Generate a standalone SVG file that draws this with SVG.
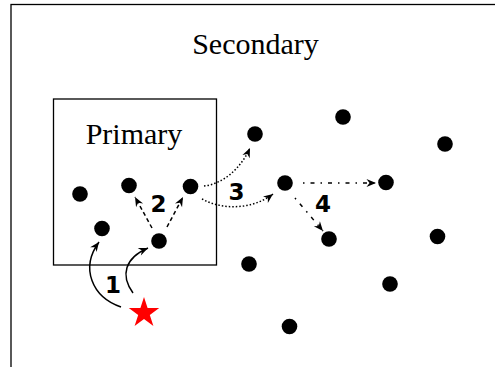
<svg xmlns="http://www.w3.org/2000/svg" width="495" height="367" viewBox="0 0 495 367">
<defs>
<style>
.box{fill:none;stroke:#000;stroke-width:1.3}
.dot{fill:#000}
.title{font-family:"Liberation Serif","Times New Roman",serif;font-size:30px;fill:#000;text-anchor:middle}
.num{font-family:"DejaVu Sans",sans-serif;font-weight:bold;font-size:23px;fill:#000;text-anchor:middle}
.c{fill:none;stroke:#000;stroke-width:1.5;marker-end:url(#ah)}
.dash{stroke-dasharray:4 3}
.dotted{stroke-dasharray:1.5 2}
.sparse{stroke-dasharray:1.5 6 4 6}
</style>
<marker id="ah" viewBox="-10 -5 11 10" refX="0" refY="0" markerWidth="11" markerHeight="10" markerUnits="userSpaceOnUse" orient="auto">
<path d="M0,0 L-9.5,-4 L-6.5,0 L-9.5,4 z" fill="#000"/>
</marker>
</defs>
<rect x="11" y="4.5" width="600" height="500" class="box"/>
<text x="255.5" y="54" class="title">Secondary</text>
<g id="primary">
<rect x="53.5" y="99" width="163" height="166" class="box"/>
<text x="134" y="144" class="title">Primary</text>
</g>
<g id="nodes">
<circle id="p1" cx="80" cy="194" r="7.8" class="dot"/>
<circle id="p2" cx="129" cy="185.5" r="7.8" class="dot"/>
<circle id="p3" cx="190.5" cy="186.5" r="7.8" class="dot"/>
<circle id="p4" cx="102" cy="228.5" r="7.8" class="dot"/>
<circle id="p5" cx="159" cy="241" r="7.8" class="dot"/>
<circle id="s1" cx="255" cy="134" r="7.8" class="dot"/>
<circle id="s2" cx="343" cy="117" r="7.8" class="dot"/>
<circle id="s3" cx="445" cy="144" r="7.8" class="dot"/>
<circle id="s4" cx="285" cy="183" r="7.8" class="dot"/>
<circle id="s5" cx="386" cy="182.5" r="7.8" class="dot"/>
<circle id="s6" cx="329" cy="239" r="7.8" class="dot"/>
<circle id="s7" cx="437.5" cy="236.5" r="7.8" class="dot"/>
<circle id="s8" cx="249" cy="264" r="7.8" class="dot"/>
<circle id="s9" cx="390" cy="284" r="7.8" class="dot"/>
<circle id="s10" cx="289.5" cy="326.5" r="7.8" class="dot"/>
</g>
<g id="source">
<polygon points="144,297 147.59,308.06 159.22,308.06 149.81,314.89 153.4,325.94 144,319.11 134.6,325.94 138.19,314.89 128.78,308.06 140.41,308.06" fill="#ff0000"/>
</g>
<g id="connectors">
<path d="M121,307 C92,297 80,268 99,242" class="c"/>
<path d="M133,293 C120,275 125,258 148,248" class="c"/>
<path d="M152,228 L135,197" class="c dash"/>
<path d="M167,227 L183,197" class="c dash"/>
<path d="M204,186 C222,184 240,170 250,148" class="c dotted"/>
<path d="M202,199 C222,210 252,210 273,194" class="c dotted"/>
<path d="M303,183 L376,183" class="c sparse"/>
<path d="M295,198 L323,231" class="c sparse"/>
</g>
<g id="labels">
<text x="113" y="293" class="num">1</text>
<text x="158.5" y="212" class="num">2</text>
<text x="236.5" y="200" class="num">3</text>
<text x="323" y="212" class="num">4</text>
</g>
</svg>
